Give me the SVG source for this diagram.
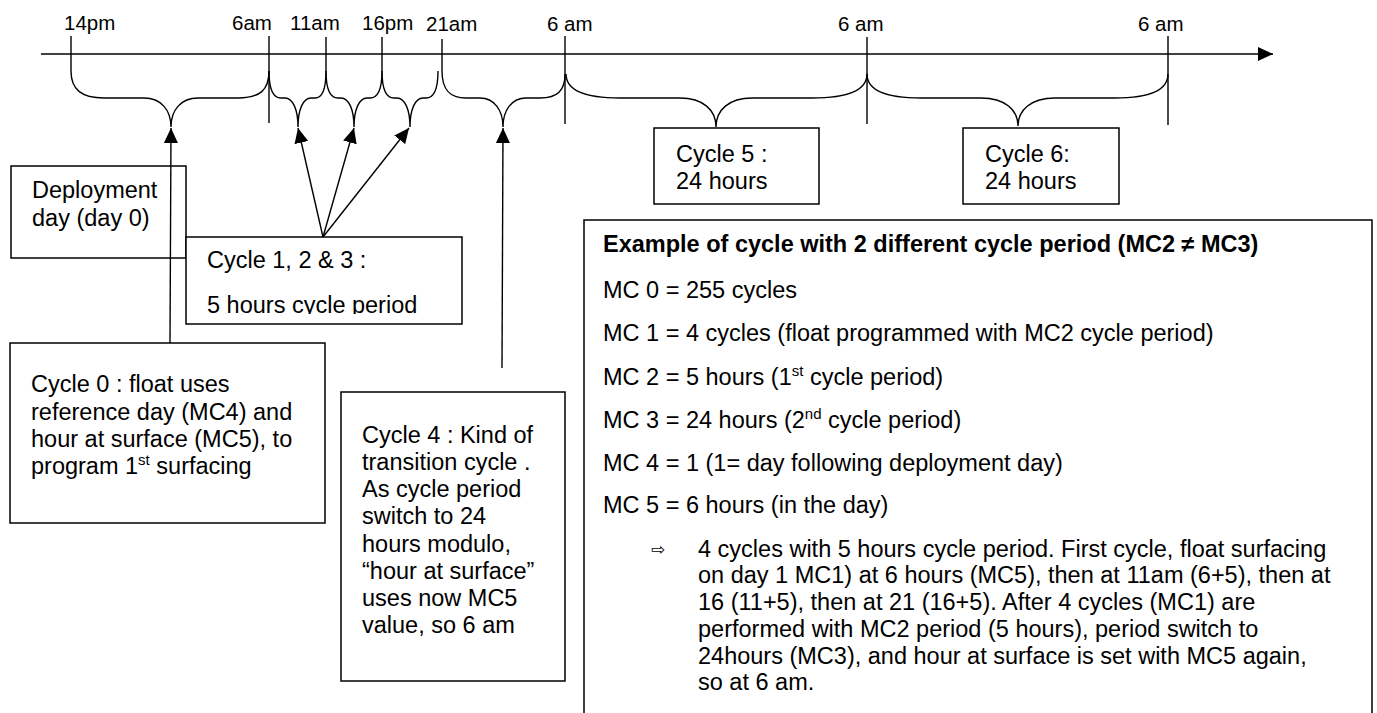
<svg xmlns="http://www.w3.org/2000/svg" width="1377" height="713" viewBox="0 0 1377 713">
<style>
.t{font-family:"Liberation Sans",Arial,sans-serif;font-size:23.5px;fill:#000}
.lbl{font-family:"Liberation Sans",Arial,sans-serif;font-size:20.5px;fill:#000}
.b{font-weight:bold}
.sup{font-size:15px}
.box{fill:#fff;stroke:#000;stroke-width:1.5}
.ln{fill:none;stroke:#000;stroke-width:1.4}
.ar{fill:none;stroke:#000;stroke-width:1.4;marker-end:url(#ah)}
.bul{font-family:"DejaVu Sans",sans-serif;font-size:17px;fill:#000}
</style>
<defs>
<marker id="ah" markerUnits="userSpaceOnUse" markerWidth="16" markerHeight="14" refX="15" refY="7" orient="auto"><path d="M0,0 L15,7 L0,14 z" fill="#000"/></marker>
<clipPath id="c1"><rect x="186" y="237" width="276" height="77"/></clipPath>
</defs>
<rect width="1377" height="713" fill="#fff"/>

<g id="timeline">
<line class="ar" x1="41" y1="54" x2="1273" y2="54"/>
<path class="ln" d="M71,36V71 M269,36V123 M326,37V71 M382,37V71 M442,39V71 M565,36V124 M867,37V124 M1168,36V125"/>
<text class="lbl" x="64" y="30">14pm</text>
<text class="lbl" x="232" y="30">6am</text>
<text class="lbl" x="290" y="30">11am</text>
<text class="lbl" x="362" y="30">16pm</text>
<text class="lbl" x="426" y="31">21am</text>
<text class="lbl" x="547" y="31">6 am</text>
<text class="lbl" x="838" y="31">6 am</text>
<text class="lbl" x="1138" y="31">6 am</text>
</g>

<g id="braces">
<path class="ln" d="M71,71 C71,90 82,98 104,98 L144,98 C161,98 171,110 171,127 C171,110 181,98 198,98 L238,98 C260,98 269,90 269,71"/>
<path class="ln" d="M269,71 C269,90 273,98 281,98 L285,98 C293,98 298,110 298,127 C298,110 303,98 311,98 L315,98 C322,98 326,90 326,71"/>
<path class="ln" d="M326,71 C326,90 330,98 338,98 L341,98 C349,98 354,110 354,127 C354,110 359,98 367,98 L370,98 C378,98 382,90 382,71"/>
<path class="ln" d="M382,71 C382,90 386,98 394,98 L397,98 C405,98 410,110 410,127 C410,110 415,98 423,98 L426,98 C434,98 438,90 438,71"/>
<path class="ln" d="M442,71 C442,90 450,98 466,98 L480,98 C494,98 503,110 503,127 C503,110 512,98 526,98 L540,98 C558,98 565,90 565,74"/>
<path class="ln" d="M566,74 C566,92 590,98 620,98 L680,98 C703,98 716,110 716,127 C716,110 729,98 752,98 L812,98 C845,98 867,92 867,74"/>
<path class="ln" d="M867,74 C867,92 891,98 921,98 L981,98 C1005,98 1018,110 1018,126 C1018,110 1031,98 1055,98 L1115,98 C1146,98 1168,92 1168,74"/>
</g>

<g id="deployment">
<rect class="box" x="11" y="166" width="175" height="92"/>
<text class="t" x="32" y="198">Deployment</text>
<text class="t" x="32" y="226">day (day 0)</text>
</g>

<g id="cycle123">
<rect class="box" x="186" y="237" width="276" height="87"/>
<text class="t" x="207" y="268">Cycle 1, 2 &amp; 3 :</text>
<text class="t" x="207" y="313" clip-path="url(#c1)">5 hours cycle period</text>
</g>

<g id="cycle0">
<rect class="box" x="10" y="343" width="315" height="180"/>
<text class="t" x="31" y="392">Cycle 0 : float uses</text>
<text class="t" x="31" y="420">reference day (MC4) and</text>
<text class="t" x="31" y="447">hour at surface (MC5), to</text>
<text class="t" x="31" y="474">program 1<tspan class="sup" dy="-9">st</tspan><tspan dy="9"> surfacing</tspan></text>
</g>

<g id="cycle4">
<rect class="box" x="341" y="392" width="224" height="289"/>
<text class="t" x="362" y="443">Cycle 4 : Kind of</text>
<text class="t" x="362" y="470">transition cycle .</text>
<text class="t" x="362" y="497">As cycle period</text>
<text class="t" x="362" y="524">switch to 24</text>
<text class="t" x="362" y="552">hours modulo,</text>
<text class="t" x="362" y="579">“hour at surface”</text>
<text class="t" x="362" y="606">uses now MC5</text>
<text class="t" x="362" y="633">value, so 6 am</text>
</g>

<g id="cycle5">
<rect class="box" x="654" y="128" width="165" height="76"/>
<text class="t" x="676" y="162">Cycle 5 :</text>
<text class="t" x="676" y="189">24 hours</text>
</g>

<g id="cycle6">
<rect class="box" x="963" y="128" width="156" height="76"/>
<text class="t" x="985" y="162">Cycle 6:</text>
<text class="t" x="985" y="189">24 hours</text>
</g>

<g id="example">
<path class="box" d="M584,713 V220 H1372 V713"/>
<text class="t b" x="603" y="252">Example of cycle with 2 different cycle period (MC2 ≠ MC3)</text>
<text class="t" x="603" y="298">MC 0 = 255 cycles</text>
<text class="t" x="603" y="341">MC 1 = 4 cycles (float programmed with MC2 cycle period)</text>
<text class="t" x="603" y="385">MC 2 = 5 hours (1<tspan class="sup" dy="-9">st</tspan><tspan dy="9"> cycle period)</tspan></text>
<text class="t" x="603" y="428">MC 3 = 24 hours (2<tspan class="sup" dy="-9">nd</tspan><tspan dy="9"> cycle period)</tspan></text>
<text class="t" x="603" y="471">MC 4 = 1 (1= day following deployment day)</text>
<text class="t" x="603" y="513">MC 5 = 6 hours (in the day)</text>
<text class="bul" x="651" y="555">⇨</text>
<text class="t" x="698" y="557">4 cycles with 5 hours cycle period. First cycle, float surfacing</text>
<text class="t" x="698" y="583">on day 1 MC1) at 6 hours (MC5), then at 11am (6+5), then at</text>
<text class="t" x="698" y="610">16 (11+5), then at 21 (16+5). After 4 cycles (MC1) are</text>
<text class="t" x="698" y="637">performed with MC2 period (5 hours), period switch to</text>
<text class="t" x="698" y="664">24hours (MC3), and hour at surface is set with MC5 again,</text>
<text class="t" x="698" y="690">so at 6 am.</text>
</g>

<g id="connectors">
<line class="ar" x1="170" y1="343" x2="171" y2="128"/>
<line class="ar" x1="323" y1="237" x2="298" y2="128"/>
<line class="ar" x1="323" y1="237" x2="354" y2="128"/>
<line class="ar" x1="323" y1="237" x2="409" y2="128"/>
<line class="ar" x1="502" y1="368" x2="503" y2="128"/>
</g>
</svg>
